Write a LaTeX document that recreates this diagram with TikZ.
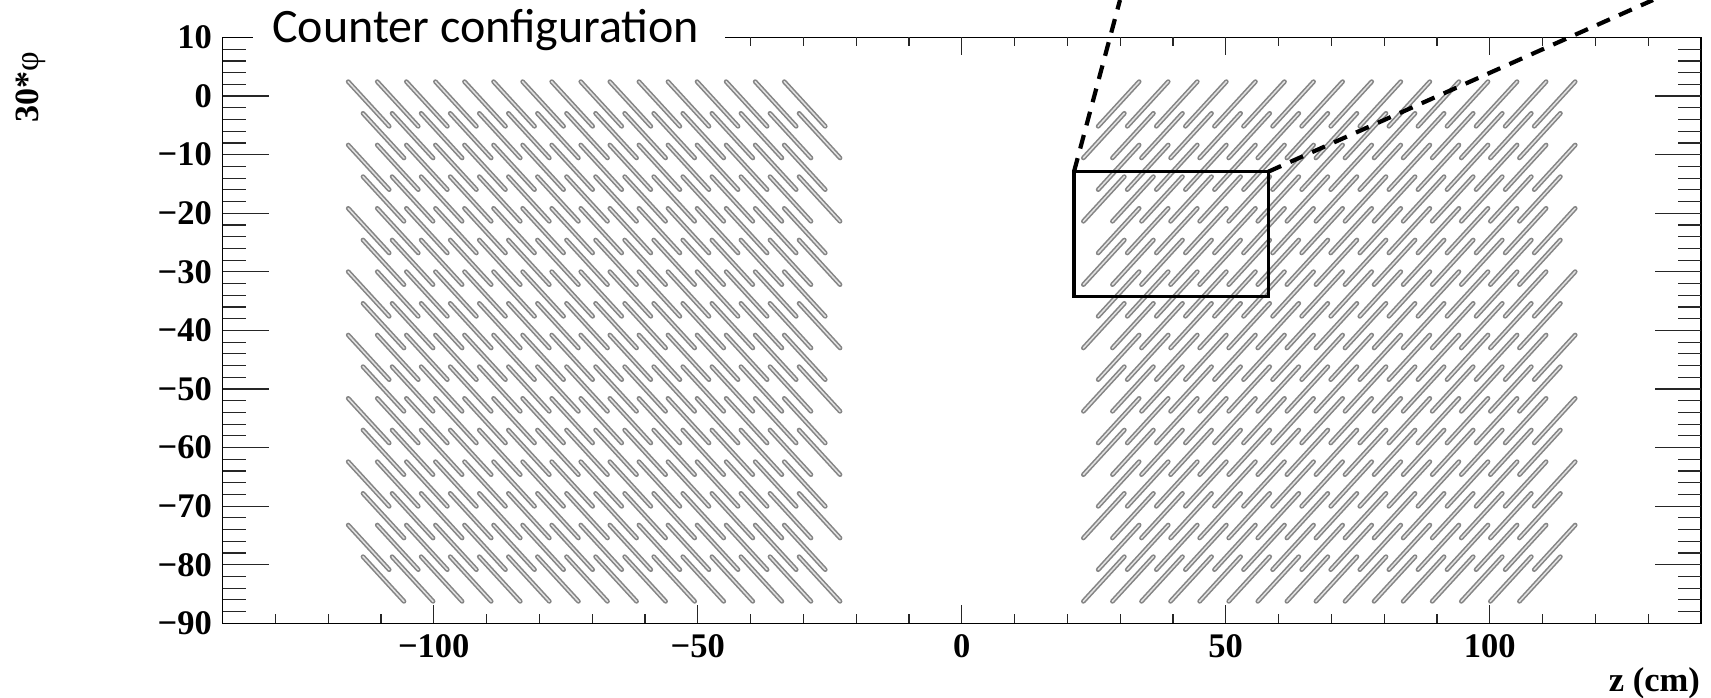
\documentclass[tikz,border=0pt]{standalone}
\usepackage{fontspec}
\setmainfont{Liberation Serif}
\newfontfamily\titlefont{Carlito}
\definecolor{stripgray}{HTML}{858585}
\definecolor{stripfill}{HTML}{E2E2E2}
\tikzset{
  strip/.style={draw=stripgray, line width=1.6pt, double=stripfill, double distance=1.5pt, line cap=round},
  frameline/.style={line width=1.4pt, draw=black},
  tickline/.style={line width=1.2pt, draw=black!85},
  ticklab/.style={font=\bfseries\fontsize{34.5}{40}\selectfont, inner sep=0pt},
  dashline/.style={line width=4.2pt, dash pattern=on 14pt off 10pt},
  boxstyle/.style={draw, line width=3.5pt, inner sep=0pt, outer sep=0pt, minimum width=194.3pt, minimum height=125pt, anchor=north west}
}
\begin{document}
\begin{tikzpicture}[x=1pt,y=-1pt]
\useasboundingbox (0,0) rectangle (1711,698);
% frame
\draw[frameline] (222.5,37.5) rectangle (1700.9,623.3);
% y ticks (left and right)
\foreach \v in {-88,-86,...,8}{
  \pgfmathsetmacro\yy{96.1-5.858*\v}
  \pgfmathsetmacro\len{ifthenelse(mod(\v,10)==0,46,23)}
  \draw[tickline] (222.5,\yy) -- ++(\len,0);
  \draw[tickline] (1700.9,\yy) -- ++(-\len,0);
}
% z ticks (bottom and top)
\foreach \z in {-130,-120,...,130}{
  \pgfmathsetmacro\xx{961.7+5.28*\z}
  \pgfmathsetmacro\len{ifthenelse(mod(\z,50)==0,18,9)}
  \draw[tickline] (\xx,623.3) -- ++(0,-\len);
  \draw[tickline] (\xx,37.5) -- ++(0,\len);
}
% title with white backing
\fill[white] (252.7,0) rectangle (725,58);
\node[font=\titlefont\fontsize{48}{56}\selectfont, anchor=base west, inner sep=0pt] (title) at (272,43) {Counter configuration};
% y tick labels
\foreach \v/\t in {10/10,0/0,-10/−10,-20/−20,-30/−30,-40/−40,-50/−50,-60/−60,-70/−70,-80/−80,-90/−90}{
  \node[ticklab, anchor=east] (yl\v) at (212,{96.1-5.858*\v}) {\t};
}
% z tick labels
\foreach \z/\t in {-100/−100,-50/−50,0/0,50/50,100/100}{
  \node[ticklab, anchor=base] (zl\z) at ({961.7+5.28*\z},657) {\t};
}
% axis titles
\node[ticklab, anchor=base east] (ztitle) at (1700,691) {z (cm)};
\node[font=\bfseries\fontsize{34}{40}\selectfont, inner sep=0pt, rotate=90, anchor=base west] (ytitle) at (38,123) {30*{\mdseries φ}};
% counter strips
\foreach \i in {0,...,15}{
  \foreach \k in {0,...,15}{
    \pgfmathsetmacro\xa{348.2+14.8*mod(\i,2)+29.07*\k}
    \pgfmathsetmacro\ya{81.65+31.67*\i}
    \pgfmathsetmacro\xb{1923.4-\xa}
    \draw[strip] (\xa,\ya) -- ++(41,44.65);
    \draw[strip] (\xb,\ya) -- ++(-41,44.65);
  }
}
% zoom box and dashed guides
\node[boxstyle] (zoombox) at (1074,171.7) {};
\coordinate (tl) at (1120,0);
\coordinate (tr) at (1653,0);
\draw[dashline] (zoombox.north west) -- (tl);
\draw[dashline] (zoombox.north east) -- (tr);
\end{tikzpicture}
\end{document}
